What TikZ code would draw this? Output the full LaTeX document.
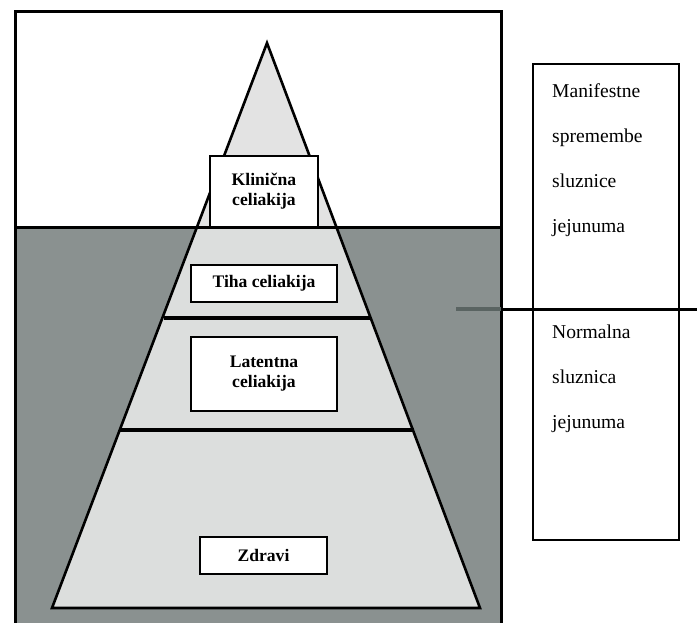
\documentclass[tikz,border=0pt]{standalone}
\usepackage{fontspec}
\setmainfont{Liberation Serif}
\usepackage{tikz}
\usetikzlibrary{positioning}

\definecolor{seagray}{HTML}{8A9190}
\definecolor{pyrgray}{HTML}{DCDEDD}
\definecolor{tipgray}{HTML}{E3E3E3}
\definecolor{bargray}{HTML}{5A6462}

\tikzset{
  label box/.style={draw, line width=1.7pt, fill=white, inner sep=0pt,
    align=center, font=\fontsize{17.6}{20}\selectfont\bfseries},
  side text/.style={anchor=base west, inner sep=0pt,
    font=\fontsize{19.6}{22}\selectfont},
  band/.style={line width=3.6pt}
}

\begin{document}
\begin{tikzpicture}[x=1pt,y=-1pt]
                \useasboundingbox (0,0) rectangle (697,623);
                \clip (0,0) rectangle (697,623);
                % frame, sea and waterline
                \fill[white] (0,0) rectangle (697,623);
                \fill[seagray] (15,228) rectangle (501,625);
                \draw[line width=3pt] (15,12) rectangle (501,630);
                \draw[line width=3pt] (15,228) -- (501,228);
                % pyramid
                \coordinate (apex) at (267,43);
                \coordinate (base_l) at (52,608);
                \coordinate (base_r) at (480,608);
                \fill[pyrgray] (apex) -- (base_l) -- (base_r) -- cycle;
                \fill[tipgray] (apex) -- (197,228) -- (337,228) -- cycle;
                \draw[line width=2.6pt, line join=miter] (apex) -- (base_l) -- (base_r) -- cycle;
                \draw[line width=3pt] (197,228) -- (337,228);
                \draw[band] (163.5,318) -- (371,318);
                \draw[band] (120,430) -- (414,430);
                % labels in the pyramid
                \node[label box, minimum width=108, minimum height=71] (klin) at (264,191.5) {Klinična\\celiakija};
                \node[label box, minimum width=146, minimum height=37] (tiha) at (264,283.5) {Tiha celiakija};
                \node[label box, minimum width=146, minimum height=74] (lat) at (264,374) {Latentna\\celiakija};
                \node[label box, minimum width=127, minimum height=37] (zdr) at (263.5,555.5) {Zdravi};
                % mucosa box on the right
                \node[draw, line width=2.4pt, minimum width=146, minimum height=476, inner sep=0pt] (mucosa) at (606,302) {};
                \coordinate (div_l) at (456,309);
                \coordinate (div_m) at (501,309);
                \coordinate (div_r) at (697,309);
                \draw[line width=4pt, bargray] (div_l) -- (div_m);
                \draw[line width=3pt] (div_m) -- (div_r);
                \node[side text] (man1) at (552,98) {Manifestne};
                \node[side text] (man2) at (552,143) {spremembe};
                \node[side text] (man3) at (552,188) {sluznice};
                \node[side text] (man4) at (552,233) {jejunuma};
                \node[side text] (nor1) at (552,338) {Normalna};
                \node[side text] (nor2) at (552,383) {sluznica};
                \node[side text] (nor3) at (552,428) {jejunuma};
                \end{tikzpicture}
\end{document}
